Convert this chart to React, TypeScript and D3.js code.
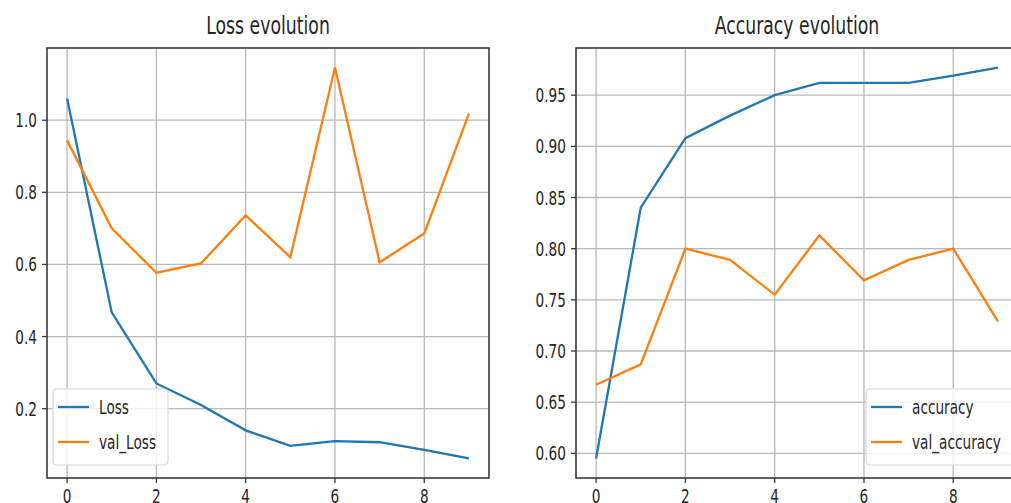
import React, { useEffect, useRef } from "react";
import * as d3 from "d3";

// epochs 0..9
const epochs = [0, 1, 2, 3, 4, 5, 6, 7, 8, 9];

const loss = [1.06, 0.467, 0.27, 0.21, 0.14, 0.097, 0.11, 0.107, 0.086, 0.062];
const valLoss = [0.944, 0.70, 0.577, 0.603, 0.736, 0.62, 1.146, 0.606, 0.686, 1.018];

const accuracy = [0.595, 0.84, 0.908, 0.93, 0.95, 0.962, 0.962, 0.962, 0.969, 0.977];
const valAccuracy = [0.667, 0.687, 0.80, 0.789, 0.755, 0.813, 0.769, 0.789, 0.80, 0.729];

const xTicks = [0, 2, 4, 6, 8];
const lossTicks = [0.2, 0.4, 0.6, 0.8, 1.0];
const accTicks = [0.6, 0.65, 0.7, 0.75, 0.8, 0.85, 0.9, 0.95];

const BLUE = "#1f77b4";
const ORANGE = "#ff7f0e";
const SQUEEZE = 0.72; // the picture is squashed horizontally

export default function App() {
  const ref = useRef<SVGSVGElement>(null);

  useEffect(() => {
    const svg = d3.select(ref.current);
    svg.selectAll("*").remove();

    const top = 48;
    const bottom = 478;

    // pad like matplotlib: 5% each side
    const padded = (vals: number[]) => {
      const [lo, hi] = d3.extent(vals) as [number, number];
      const p = (hi - lo) * 0.05;
      return [lo - p, hi + p];
    };

    const txt = (g: any, x: number, y: number, s: string, size: number, anchor: string) =>
      g
        .append("text")
        .attr("transform", `translate(${x},${y}) scale(${SQUEEZE},1)`)
        .attr("text-anchor", anchor)
        .attr("font-family", "DejaVu Sans")
        .attr("font-size", size)
        .attr("fill", "#262626")
        .text(s);

    const panel = (
      left: number,
      title: string,
      a: number[],
      b: number[],
      names: string[],
      yTicks: number[],
      fmt: (v: number) => string,
      legendX: number
    ) => {
      const right = left + 442;
      const g = svg.append("g");

      const x = d3.scaleLinear().domain([-0.45, 9.45]).range([left, right]);
      const y = d3.scaleLinear().domain(padded(a.concat(b))).range([bottom, top]);

      // grid
      g.selectAll(".gx")
        .data(xTicks)
        .enter()
        .append("line")
        .attr("x1", (d) => x(d))
        .attr("x2", (d) => x(d))
        .attr("y1", top)
        .attr("y2", bottom)
        .attr("stroke", "#b8b8b8")
        .attr("stroke-width", 1.3);
      g.selectAll(".gy")
        .data(yTicks)
        .enter()
        .append("line")
        .attr("x1", left)
        .attr("x2", right)
        .attr("y1", (d) => y(d))
        .attr("y2", (d) => y(d))
        .attr("stroke", "#b8b8b8")
        .attr("stroke-width", 1.3);

      const line = d3
        .line<number>()
        .x((_, i) => x(epochs[i]))
        .y((d) => y(d));

      g.append("path").attr("d", line(a)).attr("fill", "none").attr("stroke", BLUE).attr("stroke-width", 2.3);
      g.append("path").attr("d", line(b)).attr("fill", "none").attr("stroke", ORANGE).attr("stroke-width", 2.3);

      // frame
      g.append("rect")
        .attr("x", left)
        .attr("y", top)
        .attr("width", right - left)
        .attr("height", bottom - top)
        .attr("fill", "none")
        .attr("stroke", "#3a3a3a")
        .attr("stroke-width", 1.6);

      // ticks + labels
      xTicks.forEach((t) => {
        g.append("line")
          .attr("x1", x(t))
          .attr("x2", x(t))
          .attr("y1", bottom)
          .attr("y2", bottom + 5)
          .attr("stroke", "#3a3a3a")
          .attr("stroke-width", 1.3);
        txt(g, x(t), 503, String(t), 19, "middle");
      });
      yTicks.forEach((t) => {
        g.append("line")
          .attr("x1", left - 5)
          .attr("x2", left)
          .attr("y1", y(t))
          .attr("y2", y(t))
          .attr("stroke", "#3a3a3a")
          .attr("stroke-width", 1.3);
        txt(g, left - 10, y(t) + 7, fmt(t), 19, "end");
      });

      txt(g, (left + right) / 2, 34, title, 24, "middle");

      // legend
      const lg = g.append("g");
      lg.append("rect")
        .attr("x", legendX)
        .attr("y", 389)
        .attr("width", names[1].length > 8 ? 160 : 115)
        .attr("height", 76)
        .attr("rx", 4)
        .attr("fill", "white")
        .attr("fill-opacity", 0.8)
        .attr("stroke", "#d6d6d6")
        .attr("stroke-width", 1.2);
      [BLUE, ORANGE].forEach((c, i) => {
        const ly = 407 + i * 35;
        lg.append("line")
          .attr("x1", legendX + 5)
          .attr("x2", legendX + 36)
          .attr("y1", ly)
          .attr("y2", ly)
          .attr("stroke", c)
          .attr("stroke-width", 2.3);
        txt(lg, legendX + 46, ly + 7, names[i], 19, "start");
      });
    };

    panel(47, "Loss evolution", loss, valLoss, ["Loss", "val_Loss"], lossTicks, d3.format(".1f"), 53);
    panel(576, "Accuracy evolution", accuracy, valAccuracy, ["accuracy", "val_accuracy"], accTicks, d3.format(".2f"), 866);
  }, []);

  return (
    <svg
      ref={ref}
      width={1011}
      height={503}
      style={{ position: "absolute", left: 0, top: 0, background: "white" }}
    ></svg>
  );
}
